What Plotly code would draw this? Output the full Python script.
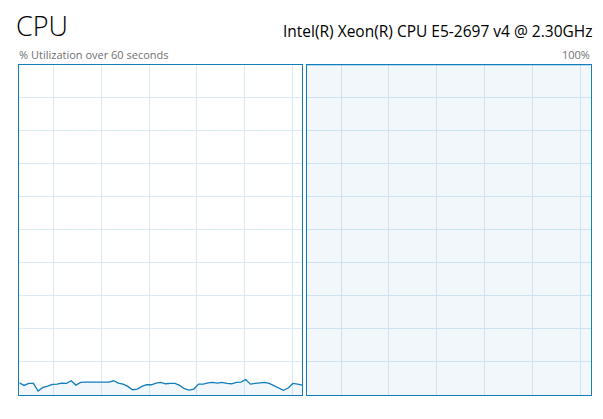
import plotly.graph_objects as go

W, H = 603, 419

seconds = list(range(61))
cpu_left = [3.7, 2.9, 3.5, 3.5, 1.2, 2.3, 2.7, 3.2, 3.3, 3.6,
            3.5, 4.3, 3.0, 3.8, 3.9, 3.9, 3.9, 3.8, 3.8, 3.9,
            4.3, 3.6, 3.3, 2.6, 1.6, 1.8, 2.6, 3.1, 3.1, 3.6,
            3.8, 3.4, 3.5, 3.5, 2.9, 1.9, 1.5, 1.8, 3.3, 3.3,
            3.7, 3.8, 3.6, 3.8, 3.5, 3.4, 3.8, 3.9, 4.7, 3.3,
            3.5, 3.6, 3.8, 3.5, 2.8, 2.0, 1.4, 2.1, 3.5, 3.3, 3.0]
cpu_right = [100, 100, 100, 100, 100, 100, 100, 100, 100, 100,
             100, 100, 100, 100, 100, 100, 100, 100, 100, 100,
             100, 100, 100, 100, 100, 100, 100, 100, 100, 100,
             100, 100, 100, 100, 100, 100, 100, 100, 100, 100,
             100, 100, 100, 100, 100, 100, 100, 100, 100, 100,
             100, 100, 100, 100, 100, 100, 100, 100, 100, 100, 100]

title = "CPU"
cpu_name = "Intel(R) Xeon(R) CPU E5-2697 v4 @ 2.30GHz"
sub_left = "% Utilization over 60 seconds"
sub_right = "100%"

LINE = "#117DBB"
FILL = "rgba(17,125,187,0.06)"
GRID = "#D9EAF4"

def px(x):
    return x / W

def py(y):
    return 1 - y / H

fig = go.Figure()
for vals, ax in [(cpu_left, ""), (cpu_right, "2")]:
    fig.add_trace(go.Scatter(
        x=seconds, y=vals, mode="lines", xaxis="x" + ax, yaxis="y" + ax,
        line=dict(color=LINE, width=1.3), fill="tozeroy", fillcolor=FILL,
        hoverinfo="skip", showlegend=False))

top, bottom = 64.5, 395
common_x = dict(range=[0, 60], showgrid=True, gridcolor=GRID, gridwidth=1,
                tick0=7.2, dtick=10.15, showticklabels=False, ticks="",
                zeroline=False, showline=True, linecolor=LINE, linewidth=1.3,
                mirror=True, fixedrange=True)
common_y = dict(range=[0, 100], showgrid=True, gridcolor=GRID, gridwidth=1,
                dtick=10, showticklabels=False, ticks="", zeroline=False,
                showline=True, linecolor=LINE, linewidth=1.3, mirror=True,
                fixedrange=True)

fig.update_layout(
    width=W, height=H, margin=dict(l=0, r=0, t=0, b=0),
    paper_bgcolor="white", plot_bgcolor="white",
    xaxis=dict(domain=[px(19.3), px(302.3)], anchor="y", **common_x),
    yaxis=dict(domain=[py(bottom), py(top)], anchor="x", **common_y),
    xaxis2=dict(domain=[px(307), px(590.5)], anchor="y2", **common_x),
    yaxis2=dict(domain=[py(bottom), py(top)], anchor="x2", **common_y),
    font=dict(family="Open Sans, Noto Sans, sans-serif"),
)

ann = [
    dict(text=title, x=px(14.5), y=py(26), xanchor="left", yanchor="middle",
         font=dict(size=27, color="#000000", family="Open Sans, sans-serif", weight=300)),
    dict(text=cpu_name, x=px(593), y=py(30.5), xanchor="right", yanchor="middle",
         font=dict(size=15.5, color="#000000")),
    dict(text=sub_left, x=px(18), y=py(54.5), xanchor="left", yanchor="middle",
         font=dict(size=11, color="#707070")),
    dict(text=sub_right, x=px(591), y=py(54.5), xanchor="right", yanchor="middle",
         font=dict(size=11, color="#707070")),
]
for a in ann:
    fig.add_annotation(xref="paper", yref="paper", showarrow=False,
                       xshift=0, yshift=0, borderpad=0, **a)

fig.write_html("out.html", config={"displayModeBar": False},
               post_script="document.body.style.margin='0';document.body.style.overflow='hidden';")
